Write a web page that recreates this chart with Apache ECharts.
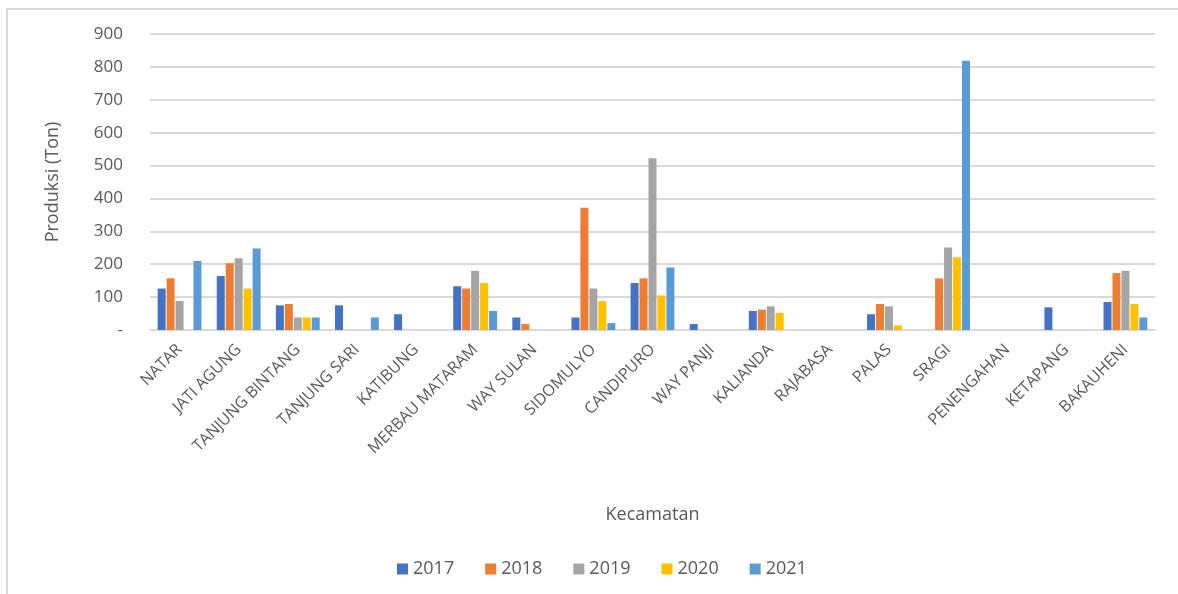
<!DOCTYPE html>
<html>
<head>
<meta charset="utf-8">
<script src="https://cdn.jsdelivr.net/npm/echarts@6/dist/echarts.min.js"></script>
<style>
	html, body { margin: 0; padding: 0; background: #fff; }
	#main { width: 1178px; height: 594px; }
</style>
</head>
<body>
<div id="main"></div>
<script>
// kecamatan names
var kecamatan = ['NATAR', 'JATI AGUNG', 'TANJUNG BINTANG', 'TANJUNG SARI', 'KATIBUNG', 'MERBAU MATARAM',
	'WAY SULAN', 'SIDOMULYO', 'CANDIPURO', 'WAY PANJI', 'KALIANDA', 'RAJABASA', 'PALAS', 'SRAGI',
	'PENENGAHAN', 'KETAPANG', 'BAKAUHENI'];

var years = ['2017', '2018', '2019', '2020', '2021'];

// produksi (ton) per tahun
var data2017 = [126, 164, 75, 75, 48, 133, 38, 38, 143, 18, 58, 0, 48, 0, 0, 69, 85];
var data2018 = [157, 203, 79, 0, 0, 126, 18, 372, 157, 0, 62, 0, 79, 157, 0, 0, 173];
var data2019 = [88, 218, 38, 0, 0, 180, 0, 126, 522, 0, 72, 0, 72, 251, 0, 0, 180];
var data2020 = [0, 126, 38, 0, 0, 143, 0, 88, 105, 0, 52, 0, 14, 221, 0, 0, 79];
var data2021 = [210, 248, 38, 38, 0, 58, 0, 21, 190, 0, 0, 0, 0, 819, 0, 0, 38];

var colors = ['#4472C4', '#ED7D31', '#A5A5A5', '#FFC000', '#5B9BD5'];
var allData = [data2017, data2018, data2019, data2020, data2021];

var chart = echarts.init(document.getElementById('main'), null, { renderer: 'canvas' });

var fontFam = 'Open Sans';
var textColor = '#595959';

var series = years.map(function (y, i) {
	return {
		name: y,
		type: 'bar',
		barWidth: 8,
		barGap: '12%',
		itemStyle: { color: colors[i] },
		data: allData[i]
	};
});

var option = {
	animation: false,
	color: colors,
	textStyle: { fontFamily: fontFam },
	graphic: [
		{
			type: 'rect',
			shape: { x: 7, y: 9, width: 1200, height: 620 },
			style: { fill: 'none', stroke: '#d9d9d9', lineWidth: 2 },
			silent: true
		}
	],
	grid: {
		left: 150,
		right: 23,
		top: 34,
		bottom: 264
	},
	legend: {
		data: years,
		bottom: 11,
		left: 392,
		itemWidth: 11,
		itemHeight: 11,
		itemGap: 31,
		icon: 'rect',
		textStyle: { color: textColor, fontSize: 18, fontFamily: fontFam }
	},
	xAxis: {
		type: 'category',
		data: kecamatan,
		name: 'Kecamatan',
		nameLocation: 'middle',
		nameGap: 176,
		nameTextStyle: { color: textColor, fontSize: 18, fontFamily: fontFam },
		axisTick: { show: false },
		axisLine: { lineStyle: { color: '#d9d9d9', width: 2 } },
		axisLabel: {
			rotate: 45,
			interval: 0,
			margin: 17,
			color: textColor,
			fontSize: 16,
			fontFamily: fontFam
		}
	},
	yAxis: {
		type: 'value',
		min: 0,
		max: 900,
		interval: 100,
		name: 'Produksi (Ton)',
		nameLocation: 'middle',
		nameGap: 88,
		nameTextStyle: { color: textColor, fontSize: 18, fontFamily: fontFam },
		axisLine: { show: false },
		axisTick: { show: false },
		axisLabel: {
			color: textColor,
			fontSize: 17,
			margin: 27,
			fontFamily: fontFam,
			formatter: function (v) { return v === 0 ? '-' : v; }
		},
		splitLine: { lineStyle: { color: '#d9d9d9', width: 2 } }
	},
	series: series
};

chart.setOption(option);
</script>
</body>
</html>
